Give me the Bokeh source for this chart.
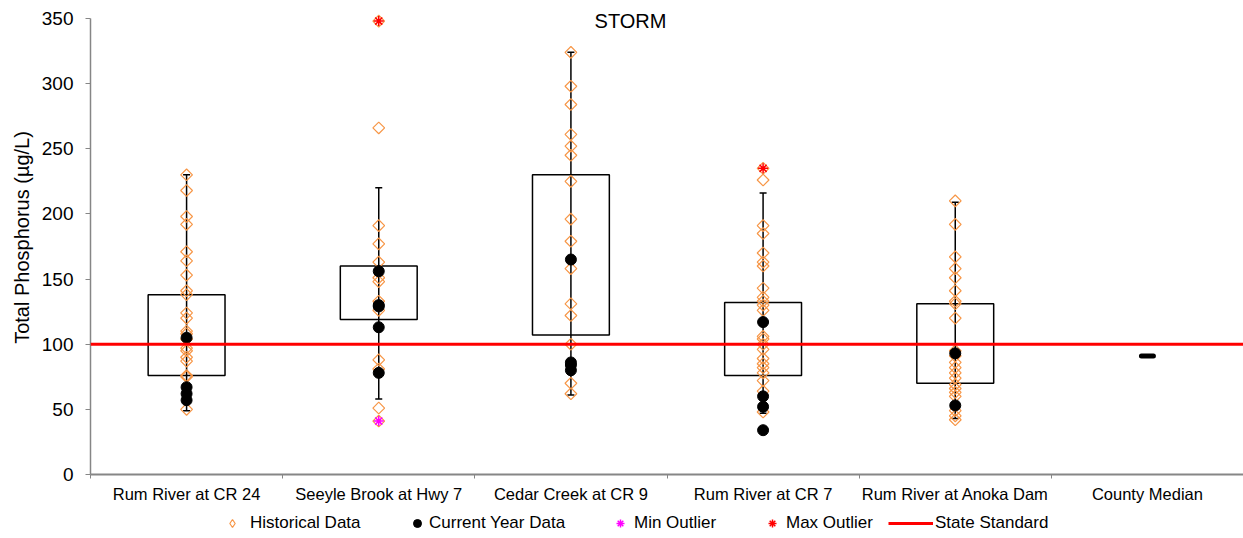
import numpy as np
from bokeh.plotting import figure
from bokeh.layouts import column
from bokeh.models import Range1d, FixedTicker, Span, Legend, LegendItem, Label
from bokeh.embed import file_html
from bokeh.resources import INLINE

# ---------------- data ----------------
sites = ["Rum River at CR 24", "Seeyle Brook at Hwy 7", "Cedar Creek at CR 9",
         "Rum River at CR 7", "Rum River at Anoka Dam", "County Median"]

hist_cr24 = [230, 218, 198, 192, 171, 164, 153, 141, 138, 124, 120, 110, 108, 104, 97, 95, 90, 87, 76, 75, 50]
hist_seeyle = [348, 266, 191, 177, 163, 151, 148, 133, 126, 88, 81, 51, 41]
hist_cedar = [324, 298, 284, 261, 252, 245, 225, 196, 179, 158, 131, 122, 100, 70, 62]
hist_cr7 = [235, 226, 191, 185, 170, 163, 160, 143, 136, 133, 130, 126, 106, 104, 100, 96, 89, 85, 82, 78, 72, 64, 48]
hist_anoka = [210, 192, 167, 158, 151, 141, 133, 131, 120, 95, 91, 86, 82, 78, 74, 69, 66, 63, 60, 49, 45, 42]

cur_cr24 = [105, 67, 62, 57]
cur_seeyle = [156, 130, 129, 113, 78]
cur_cedar = [165, 86, 84, 80]
cur_cr7 = [117, 60, 52, 34]
cur_anoka = [93, 53]

# outliers: (site index, value)
min_outlier_site = [1]
min_outlier_val = [41]
max_outlier_site = [1, 3]
max_outlier_val = [348, 235]

# box statistics for the first five sites
q1 = [76, 119, 107, 76, 70]
median = [95, 131, 165, 100, 92]
q3 = [138, 160, 230, 132, 131]
whisker_lo = [49, 58, 61, 47, 43]
whisker_hi = [230, 220, 324, 216, 209]

county_median = [91]
state_standard = 100

y_ticks = [0, 50, 100, 150, 200, 250, 300, 350]

# ---------------- styling ----------------
ORANGE = "#F79646"
FONT = "Liberation Sans"

centers = np.arange(len(sites)) + 0.5
box_x = centers[:5]

hist_all = [hist_cr24, hist_seeyle, hist_cedar, hist_cr7, hist_anoka]
cur_all = [cur_cr24, cur_seeyle, cur_cedar, cur_cr7, cur_anoka]

hx, hy = [], []
for i, vals in enumerate(hist_all):
    hx += [centers[i]] * len(vals)
    hy += vals
cx, cy = [], []
for i, vals in enumerate(cur_all):
    cx += [centers[i]] * len(vals)
    cy += vals

p = figure(width=1243, height=508, x_range=Range1d(0, 6), y_range=Range1d(0, 363.8),
           output_backend="svg", toolbar_location=None,
           min_border_left=90, min_border_right=0, min_border_top=0, min_border_bottom=34)
p.outline_line_color = None
p.xgrid.grid_line_color = None
p.ygrid.grid_line_color = None
p.background_fill_color = "white"

# whiskers
p.segment(x0=box_x, x1=box_x, y0=whisker_lo, y1=whisker_hi, line_color="black", line_width=1.5)
p.scatter(x=box_x, y=whisker_lo, marker="dash", size=7, line_color="black", line_width=1.5)
p.scatter(x=box_x, y=whisker_hi, marker="dash", size=7, line_color="black", line_width=1.5)

# boxes
p.vbar(x=box_x, width=0.4, bottom=q1, top=q3, fill_color=None, line_color="black", line_width=1.5)
p.rect(x=box_x, y=median, width=0.4, height=0, line_color="black", line_width=1.5, fill_color=None)

# state standard
p.add_layout(Span(location=state_standard, dimension="width", line_color="red", line_width=3))

# points
p.scatter(x=hx, y=hy, marker="square", angle=np.pi / 4, size=8.3,
          fill_color=None, line_color=ORANGE, line_width=1.2)
p.scatter(x=cx, y=cy, marker="circle", size=11, fill_color="black", line_color="black")
p.scatter(x=centers[min_outlier_site], y=min_outlier_val, marker="asterisk", size=10,
          line_color="#FF00FF", line_width=1.5)
p.scatter(x=centers[max_outlier_site], y=max_outlier_val, marker="asterisk", size=10,
          line_color="red", line_width=1.5)

# county median
p.scatter(x=centers[5:6], y=county_median, marker="dash", size=12, line_color="black",
          line_width=5, line_cap="round")

# axes
p.yaxis.ticker = FixedTicker(ticks=y_ticks)
p.yaxis.bounds = (0, 350)
p.yaxis.axis_label = "Total Phosphorus (µg/L)"
p.yaxis.axis_label_text_font = FONT
p.yaxis.axis_label_text_font_size = "20px"
p.yaxis.axis_label_text_font_style = "normal"
p.yaxis.axis_label_text_color = "black"
p.yaxis.axis_label_standoff = 6
p.yaxis.major_label_text_font = FONT
p.yaxis.major_label_text_font_size = "19px"
p.yaxis.major_label_text_color = "black"
p.yaxis.major_label_standoff = 12
p.yaxis.major_tick_out = 5
p.yaxis.major_tick_in = 0
p.yaxis.minor_tick_line_color = None
p.yaxis.axis_line_color = "#868686"
p.yaxis.major_tick_line_color = "#868686"
p.yaxis.axis_line_width = 1.5

p.xaxis.ticker = FixedTicker(ticks=list(centers), minor_ticks=list(range(len(sites) + 1)))
p.xaxis.major_label_overrides = {float(c): s for c, s in zip(centers, sites)}
p.xaxis.major_tick_line_color = None
p.xaxis.major_tick_out = 0
p.xaxis.major_tick_in = 0
p.xaxis.minor_tick_out = 4
p.xaxis.minor_tick_in = 0
p.xaxis.minor_tick_line_color = "#868686"
p.xaxis.axis_line_color = "#868686"
p.xaxis.axis_line_width = 2
p.xaxis.major_label_text_font = FONT
p.xaxis.major_label_text_font_size = "16.5px"
p.xaxis.major_label_text_color = "black"
p.xaxis.major_label_standoff = 6

# title
p.add_layout(Label(x=2.81, y=347.7, text="STORM", text_font=FONT, text_font_size="20px",
                   text_align="center", text_baseline="middle", text_color="black"))

# ---------------- legend strip ----------------
lg = figure(width=1243, height=30, x_range=Range1d(0, 1), y_range=Range1d(0, 1),
            output_backend="svg", toolbar_location=None,
            min_border_left=90, min_border_right=0, min_border_top=0, min_border_bottom=0)
lg.axis.visible = False
lg.grid.visible = False
lg.outline_line_color = None

nan = [np.nan]
r_hist = lg.scatter(x=nan, y=nan, marker="diamond", size=13, fill_color=None,
                    line_color=ORANGE, line_width=1.2)
r_cur = lg.scatter(x=nan, y=nan, marker="circle", size=9, fill_color="black", line_color="black")
r_min = lg.scatter(x=nan, y=nan, marker="asterisk", size=10, line_color="#FF00FF", line_width=1.5)
r_max = lg.scatter(x=nan, y=nan, marker="asterisk", size=10, line_color="red", line_width=1.5)
r_std = lg.line(x=[np.nan, np.nan], y=[np.nan, np.nan], line_color="red", line_width=3)

# (label, renderer, glyph left edge measured from plot frame, glyph width, glyph height, standoff)
entries = [("Historical Data", r_hist, 132, 20, 30, 8),
           ("Current Year Data", r_cur, 317, 20, 22, 2),
           ("Min Outlier", r_min, 520, 20, 24, 4),
           ("Max Outlier", r_max, 672, 20, 24, 4),
           ("State Standard", r_std, 798, 45, 20, 2)]
for label, rend, left, gw, gh, so in entries:
    leg = Legend(items=[LegendItem(label=label, renderers=[rend])],
                 location=(left, (30 - gh) // 2))
    leg.label_text_font = FONT
    leg.label_text_font_size = "17px"
    leg.label_text_color = "black"
    leg.glyph_width = gw
    leg.glyph_height = gh
    leg.label_standoff = so
    leg.padding = 0
    leg.margin = 0
    leg.border_line_color = None
    leg.background_fill_alpha = 0
    lg.add_layout(leg)

layout = column(p, lg, spacing=0)
open("out.html", "w").write(file_html(layout, INLINE))
